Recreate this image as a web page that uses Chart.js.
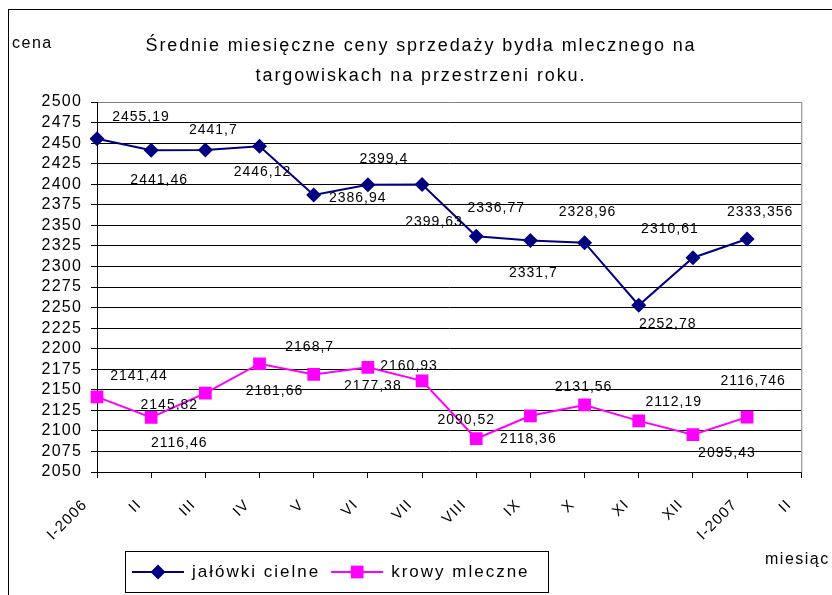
<!DOCTYPE html>
<html lang="pl">
<head>
<meta charset="utf-8">
<title>Średnie miesięczne ceny sprzedaży bydła mlecznego</title>
<script src="https://cdn.jsdelivr.net/npm/chart.js@4"></script>
<style>
html,body{margin:0;padding:0;background:#fff;}
#wykres{display:block;}
</style>
</head>
<body>
<canvas id="wykres" width="832" height="595"></canvas>
<script>
// miesiace na osi x
const miesiace = ["I-2006","II","III","IV","V","VI","VII","VIII","IX","X","XI","XII","I-2007","II"];

// ceny - jałówki cielne
const jalowki = [2455.19, 2441.46, 2441.7, 2446.12, 2386.94, 2399.4, 2399.63, 2336.77, 2331.7, 2328.96, 2252.78, 2310.61, 2333.356];

// ceny - krowy mleczne
const krowy = [2141.44, 2116.46, 2145.82, 2181.66, 2168.7, 2177.38, 2160.93, 2090.52, 2118.36, 2131.56, 2112.19, 2095.43, 2116.746];

const nazwy = ["jałówki cielne", "krowy mleczne"];
const tytul = ["Średnie miesięczne ceny sprzedaży bydła mlecznego na", "targowiskach na przestrzeni roku."];
const osY = "cena";
const osX = "miesiąc";
const yMin = 2050, yMax = 2500, yKrok = 25;

// gdzie stoi etykieta wartosci wzgledem punktu (px)
const przesJal = [[44,-22],[8,30],[8,-20],[3,26],[44,3],[16,-26],[12,38],[20,-28],[3,33],[3,-30],[29,19],[-23,-29],[13,-27]];
const przesKrowy = [[42,-21],[28,26],[-36,12],[15,27],[-4,-27],[5,19],[-13,-15],[-10,-19],[-2,23],[-1,-18],[35,-19],[34,18],[6,-36]];

const czcionka = '"Liberation Sans", Arial, sans-serif';
Chart.defaults.font.family = czcionka;
Chart.defaults.color = '#000';

function znacznik(ctx, typ, x, y, r, kolor){
    ctx.fillStyle = kolor;
    ctx.beginPath();
    if(typ == 'rectRot'){
        ctx.moveTo(x, y - r);
        ctx.lineTo(x + r, y);
        ctx.lineTo(x, y + r);
        ctx.lineTo(x - r, y);
    }else{
        const s = r * Math.SQRT1_2;
        ctx.rect(x - s, y - s, 2 * s, 2 * s);
    }
    ctx.closePath();
    ctx.fill();
}

const dodatki = {
    id: 'dodatki',
    beforeDraw(chart){
        chart.ctx.letterSpacing = '1.2px';
    },
    afterDatasetsDraw(chart){
        const ctx = chart.ctx;
        ctx.save();
        ctx.font = '14px ' + czcionka;
        ctx.letterSpacing = '1px';
        ctx.fillStyle = '#000';
        ctx.textAlign = 'center';
        ctx.textBaseline = 'middle';
        [przesJal, przesKrowy].forEach((przes, d) => {
            const meta = chart.getDatasetMeta(d);
            meta.data.forEach((pt, i) => {
                const v = chart.data.datasets[d].data[i];
                if (v == null) return;
                ctx.fillText(String(v).replace('.', ','), pt.x + przes[i][0], pt.y + przes[i][1]);
            });
        });
        ctx.restore();
    },
    afterDraw(chart){
        const ctx = chart.ctx;
        const a = chart.chartArea;
        ctx.save();

        // ramka obszaru wykresu (szara)
        ctx.strokeStyle = '#808080';
        ctx.lineWidth = 1;
        ctx.beginPath();
        ctx.moveTo(a.right + 0.5, a.top);
        ctx.lineTo(a.right + 0.5, a.bottom);
        ctx.stroke();

        // ramka calosci
        ctx.strokeStyle = '#000';
        ctx.strokeRect(8.5, 9.5, 900, 700);

        // tytul
        ctx.fillStyle = '#000';
        ctx.textAlign = 'center';
        ctx.textBaseline = 'middle';
        ctx.font = '18px ' + czcionka;
        ctx.letterSpacing = '1.9px';
        ctx.fillText(tytul[0], 421, 46);
        ctx.fillText(tytul[1], 421, 76);

        // opisy osi
        ctx.textAlign = 'left';
        ctx.font = '16px ' + czcionka;
        ctx.letterSpacing = '1.5px';
        ctx.fillText(osY, 12, 44);
        ctx.fillText(osX, 765, 560);

        // legenda
        ctx.fillStyle = '#fff';
        ctx.fillRect(125.5, 551.5, 423, 41);
        ctx.strokeStyle = '#000';
        ctx.strokeRect(125.5, 551.5, 423, 41);
        ctx.font = '17px ' + czcionka;
        ctx.letterSpacing = '2px';
        let x = 132;
        const yl = 572;
        chart.data.datasets.forEach(ds => {
            ctx.strokeStyle = ds.borderColor;
            ctx.lineWidth = 2;
            ctx.beginPath();
            ctx.moveTo(x, yl);
            ctx.lineTo(x + 52, yl);
            ctx.stroke();
            znacznik(ctx, ds.pointStyle, x + 26, yl, ds.pointRadius, ds.borderColor);
            ctx.fillStyle = '#000';
            ctx.fillText(ds.label, x + 60, yl);
            x = x + 60 + ctx.measureText(ds.label).width + 11;
        });

        ctx.restore();
    }
};

new Chart(document.getElementById('wykres'), {
    type: 'line',
    data: {
        labels: miesiace,
        datasets: [{
            label: nazwy[0],
            data: jalowki,
            borderColor: '#000080',
            backgroundColor: '#000080',
            borderWidth: 2,
            pointStyle: 'rectRot',
            pointRadius: 7.5,
            pointBorderWidth: 0,
            tension: 0
        }, {
            label: nazwy[1],
            data: krowy,
            borderColor: '#FF00FF',
            backgroundColor: '#FF00FF',
            borderWidth: 2,
            pointStyle: 'rect',
            pointRadius: 9,
            pointBorderWidth: 0,
            tension: 0
        }]
    },
    options: {
        responsive: false,
        animation: false,
        events: [],
        layout: { padding: { top: 102, right: 21, left: 0, bottom: 0 } },
        plugins: { legend: { display: false }, title: { display: false }, tooltip: { enabled: false } },
        scales: {
            x: {
                offset: false,
                afterFit(s){ s.height = 123; },
                border: { color: '#000', width: 1 },
                grid: { drawOnChartArea: false, drawTicks: true, tickLength: 6, color: '#000' },
                ticks: { autoSkip: false, minRotation: 45, maxRotation: 45, padding: 18, labelOffset: -12, font: { size: 15 } }
            },
            y: {
                min: yMin,
                max: yMax,
                afterFit(s){ s.width = 97; },
                border: { color: '#000', width: 1 },
                grid: {
                    color: c => (c.tick && c.tick.value === yMax) ? '#808080' : '#000',
                    tickColor: '#000',
                    tickLength: 6
                },
                ticks: { stepSize: yKrok, autoSkip: false, padding: 9, font: { size: 16 }, callback: v => String(v) }
            }
        }
    },
    plugins: [dodatki]
});
</script>
</body>
</html>
